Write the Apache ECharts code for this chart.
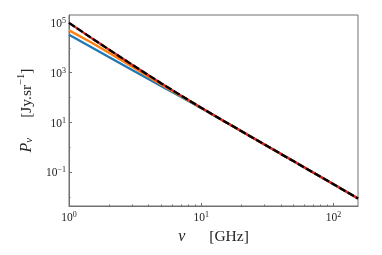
<!DOCTYPE html>
<html>
<head>
<meta charset="utf-8">
<script src="https://cdn.jsdelivr.net/npm/echarts@6/dist/echarts.min.js"></script>
<style>html,body{margin:0;padding:0;background:#fff}#c{width:382px;height:255px}</style>
</head>
<body>
<div id="c"></div>
<script>
// Frequencies (GHz)
const freq = [1, 1.5, 2, 3, 5, 7, 10, 15, 20, 30, 50, 70, 100, 153];
// P_nu (Jy.sr^-1)
const blueVals   = [33110, 10000, 4266, 1288, 288, 107, 37.2, 10.96, 4.57, 1.318, 0.275, 0.0977, 0.0331, 0.00891];
const orangeVals = [50100, 15490, 6310, 1738, 331, 115, 38.0, 10.96, 4.57, 1.318, 0.275, 0.0977, 0.0331, 0.00891];
const redVals    = [100000, 23440, 8511, 2089, 371.5, 123, 38.9, 10.96, 4.57, 1.318, 0.275, 0.0977, 0.0331, 0.00891];
const blackVals  = [100000, 23440, 8511, 2089, 371.5, 123, 38.9, 10.96, 4.57, 1.318, 0.275, 0.0977, 0.0331, 0.00891];
// Tick labels
const xMajor = [1, 10, 100];
const xMinor = [2,3,4,5,6,7,8,9,20,30,40,50,60,70,80,90];
const yMajor = [0.1, 10, 1000, 100000];
const yMinor = [0.01, 1, 100, 10000];

const pair = (vals) => freq.map((f, i) => [f, vals[i]]);
const SERIF = '"Liberation Serif", "DejaVu Serif", serif';
const supFmt = (v) => {
  const e = Math.round(Math.log10(v));
  return '{b|10}{s|' + (e < 0 ? '\u2212' + (-e) : e) + '}';
};
const labelRich = {
  b: { fontFamily: SERIF, fontSize: 11.5, color: '#222', lineHeight: 14, verticalAlign: 'bottom' },
  s: { fontFamily: SERIF, fontSize: 8, color: '#222', lineHeight: 14, verticalAlign: 'bottom', padding: [0, 0, 5, 0] }
};
const XMIN = 1, XMAX = 153, YMIN = Math.pow(10, -2.353), YMAX = Math.pow(10, 5.317);
const axisLineStyle = { color: '#707070', width: 1 };

const chart = echarts.init(document.getElementById('c'), null, { renderer: 'canvas' });
chart.setOption({
  animation: false,
  grid: { left: 69, right: 24, top: 15, bottom: 49, show: true, borderColor: '#707070', borderWidth: 1 },
  xAxis: [
    {
      type: 'log', logBase: 10, min: XMIN, max: XMAX,
      axisLine: { show: true, lineStyle: axisLineStyle },
      axisTick: { show: true, inside: true, length: 3, customValues: xMajor, lineStyle: axisLineStyle },
      axisLabel: { customValues: xMajor, formatter: supFmt, rich: labelRich, margin: 4 },
      splitLine: { show: false },
      name: '{i|\u03bd}{g|}{r|[GHz]}', nameLocation: 'middle', nameGap: 19,
      nameTextStyle: {
        rich: {
          i: { fontFamily: SERIF, fontStyle: 'italic', fontSize: 16, color: '#222', lineHeight: 18 },
          g: { width: 24 },
          r: { fontFamily: SERIF, fontSize: 15.5, color: '#222', lineHeight: 18 }
        }
      }
    },
    {
      type: 'log', logBase: 10, min: XMIN, max: XMAX, position: 'bottom',
      axisLine: { show: false },
      axisTick: { show: true, inside: true, length: 1.5, customValues: xMinor, lineStyle: axisLineStyle },
      axisLabel: { show: false },
      splitLine: { show: false }
    }
  ],
  yAxis: [
    {
      type: 'log', logBase: 10, min: YMIN, max: YMAX,
      axisLine: { show: true, lineStyle: axisLineStyle },
      axisTick: { show: true, inside: true, length: 3, customValues: yMajor, lineStyle: axisLineStyle },
      axisLabel: { customValues: yMajor, formatter: supFmt, rich: labelRich, margin: 3 },
      splitLine: { show: false },
      name: '{i|P}{sub|\u03bd}{g|}{r|[Jy.sr}{sup|\u22121}{r|]}', nameLocation: 'middle', nameGap: 32,
      nameTextStyle: {
        rich: {
          i: { fontFamily: SERIF, fontStyle: 'italic', fontSize: 16, color: '#222', lineHeight: 20, verticalAlign: 'bottom' },
          sub: { fontFamily: SERIF, fontStyle: 'italic', fontSize: 11, color: '#222', lineHeight: 20, verticalAlign: 'bottom', padding: [0, 0, 0, 0] },
          g: { width: 20 },
          r: { fontFamily: SERIF, fontSize: 15.5, color: '#222', lineHeight: 20, verticalAlign: 'bottom' },
          sup: { fontFamily: SERIF, fontSize: 10.5, color: '#222', lineHeight: 20, verticalAlign: 'bottom', padding: [0, 0, 8, 0] }
        }
      }
    },
    {
      type: 'log', logBase: 10, min: YMIN, max: YMAX, position: 'left',
      axisLine: { show: false },
      axisTick: { show: true, inside: true, length: 1.5, customValues: yMinor, lineStyle: axisLineStyle },
      axisLabel: { show: false },
      splitLine: { show: false }
    }
  ],
  series: [
    { type: 'line', data: pair(blueVals), showSymbol: false, lineStyle: { color: '#1f77b4', width: 2.3 }, z: 2 },
    { type: 'line', data: pair(orangeVals), showSymbol: false, lineStyle: { color: '#ff7f0e', width: 2.3 }, z: 3 },
    { type: 'line', data: pair(redVals), showSymbol: false, lineStyle: { color: '#d62728', width: 2.3 }, z: 4 },
    { type: 'line', data: pair(blackVals), showSymbol: false, lineStyle: { color: '#000000', width: 2.3, type: [7, 2.6] }, z: 5 }
  ]
});
</script>
</body>
</html>
